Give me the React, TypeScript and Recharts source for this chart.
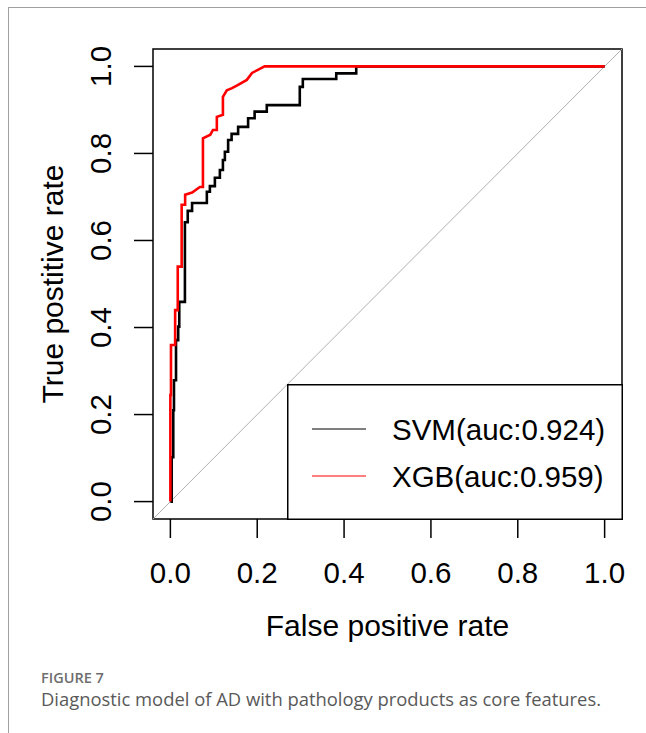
import React from 'react'
import { LineChart, Line, XAxis, YAxis, ReferenceArea, ReferenceLine, Legend } from 'recharts'

// ROC curve points (false positive rate / true positive rate)
const svmFpr = [0, 0.003, 0.003, 0.0067, 0.0067, 0.0083, 0.0083, 0.013, 0.013, 0.018, 0.018, 0.0205, 0.0205, 0.0335, 0.0335, 0.04, 0.04, 0.05, 0.05, 0.084, 0.084, 0.091, 0.091, 0.1025, 0.1025, 0.114, 0.114, 0.121, 0.121, 0.1255, 0.1255, 0.133, 0.133, 0.141, 0.141, 0.156, 0.156, 0.179, 0.179, 0.194, 0.194, 0.222, 0.222, 0.298, 0.298, 0.305, 0.305, 0.382, 0.382, 0.428, 0.428, 1]
const svmTpr = [0, 0, 0.102, 0.102, 0.21, 0.21, 0.279, 0.279, 0.371, 0.371, 0.402, 0.402, 0.459, 0.459, 0.642, 0.642, 0.668, 0.668, 0.686, 0.686, 0.712, 0.712, 0.725, 0.725, 0.744, 0.744, 0.762, 0.762, 0.785, 0.785, 0.804, 0.804, 0.831, 0.831, 0.845, 0.845, 0.861, 0.861, 0.881, 0.881, 0.896, 0.896, 0.911, 0.911, 0.953, 0.953, 0.971, 0.971, 0.984, 0.984, 1, 1]

const xgbFpr = [0, 0, 0.0014, 0.0014, 0.011, 0.011, 0.017, 0.017, 0.026, 0.026, 0.034, 0.034, 0.05, 0.068, 0.075, 0.075, 0.092, 0.098, 0.107, 0.107, 0.121, 0.121, 0.13, 0.142, 0.155, 0.176, 0.188, 0.217, 1]
const xgbTpr = [0, 0.245, 0.245, 0.36, 0.36, 0.44, 0.44, 0.54, 0.54, 0.682, 0.682, 0.705, 0.71, 0.723, 0.723, 0.835, 0.843, 0.854, 0.854, 0.884, 0.889, 0.93, 0.945, 0.95, 0.957, 0.969, 0.985, 1, 1]

const axisTicks = [0, 0.2, 0.4, 0.6, 0.8, 1]
const seriesNames = ['SVM(auc:0.924)', 'XGB(auc:0.959)']
const seriesColors = ['#000000', '#ff0000']

const toPoints = (fpr: number[], tpr: number[]) => fpr.map((x, i) => ({ fpr: x, tpr: tpr[i] }))
const svmPoints = toPoints(svmFpr, svmTpr)
const xgbPoints = toPoints(xgbFpr, xgbTpr)

const FONT = "'Liberation Sans', Arial, sans-serif"
const CAPTION_FONT = "'Open Sans', 'Noto Sans', sans-serif"

const YTick = ({ x, y, payload }: any) => (
  <text
    x={x}
    y={y}
    transform={`rotate(-90, ${x}, ${y})`}
    textAnchor="middle"
    fontSize={29.5}
    fontFamily={FONT}
    fill="#000"
  >
    {Number(payload.value).toFixed(1)}
  </text>
)

const RocLegend = () => (
  <svg width={336} height={136} style={{ display: 'block' }}>
    <rect x={0.75} y={0.75} width={334.5} height={134.5} fill="#fff" stroke="#000" strokeWidth={1.5} />
    {seriesNames.map((name, i) => (
      <g key={name}>
        <line x1={25} x2={79} y1={45 + i * 47} y2={45 + i * 47} stroke={seriesColors[i]} strokeWidth={1.2} />
        <text x={105} y={45 + i * 47} dy="0.36em" fontSize={29.5} fontFamily={FONT} fill="#000">
          {name}
        </text>
      </g>
    ))}
  </svg>
)

export default function App() {
  return (
    <div style={{ position: 'absolute', left: 0, top: 0, width: 646, height: 733, overflow: 'hidden', background: '#fff' }}>
      <div
        style={{
          position: 'absolute',
          left: 8,
          top: 7,
          width: 700,
          height: 800,
          border: '1.5px solid #a0a0a0',
        }}
      />
      <div style={{ position: 'absolute', left: 0, top: 0 }}>
        <LineChart width={646} height={733} margin={{ top: 49, right: 24, bottom: 154, left: 93 }}>
          <XAxis
            dataKey="fpr"
            type="number"
            domain={[-0.04, 1.04]}
            ticks={axisTicks}
            tickFormatter={(v: number) => v.toFixed(1)}
            axisLine={false}
            tickSize={19}
            tickMargin={24}
            tickLine={{ stroke: '#000', strokeWidth: 1.5 }}
            tick={{ fill: '#000', fontSize: 29.5, fontFamily: FONT }}
            height={60}
            allowDataOverflow
            label={{
              content: () => (
                <text x={387.5} y={636} textAnchor="middle" fontSize={30} fontFamily={FONT} fill="#000">
                  False positive rate
                </text>
              ),
            }}
          />
          <YAxis
            dataKey="tpr"
            type="number"
            domain={[-0.04, 1.04]}
            ticks={axisTicks}
            axisLine={false}
            tickSize={19}
            tickMargin={23}
            tickLine={{ stroke: '#000', strokeWidth: 1.5 }}
            tick={<YTick />}
            width={60}
            allowDataOverflow
            label={{
              content: () => (
                <text
                  x={63}
                  y={284}
                  transform="rotate(-90, 63, 284)"
                  textAnchor="middle"
                  fontSize={30}
                  fontFamily={FONT}
                  fill="#000"
                >
                  True postitive rate
                </text>
              ),
            }}
          />
          <ReferenceLine
            segment={[{ x: -0.04, y: -0.04 }, { x: 1.04, y: 1.04 }]}
            stroke="#b0b0b0"
            strokeWidth={1}
          />
          <Line
            data={svmPoints}
            dataKey="tpr"
            type="linear"
            stroke={seriesColors[0]}
            strokeWidth={2.6}
            dot={false}
            activeDot={false}
            isAnimationActive={false}
          />
          <Line
            data={xgbPoints}
            dataKey="tpr"
            type="linear"
            stroke={seriesColors[1]}
            strokeWidth={2.6}
            dot={false}
            activeDot={false}
            isAnimationActive={false}
          />
          <ReferenceArea
            x1={-0.04}
            x2={1.04}
            y1={-0.04}
            y2={1.04}
            fill="none"
            fillOpacity={0}
            stroke="#000"
            strokeWidth={1.5}
          />
          <Legend
            layout="horizontal"
            verticalAlign="middle"
            align="center"
            content={() => <RocLegend />}
            wrapperStyle={{ left: 287, top: 384, width: 336, height: 136 }}
          />
        </LineChart>
      </div>
      <div
        style={{
          position: 'absolute',
          left: 41,
          top: 668,
          fontFamily: CAPTION_FONT,
          fontSize: 14.5,
          fontWeight: 600,
          color: '#6e6e6e',
        }}
      >
        FIGURE 7
      </div>
      <div
        style={{
          position: 'absolute',
          left: 41,
          top: 686,
          fontFamily: CAPTION_FONT,
          fontSize: 18.4,
          color: '#595959',
          whiteSpace: 'nowrap',
        }}
      >
        Diagnostic model of AD with pathology products as core features.
      </div>
    </div>
  )
}
